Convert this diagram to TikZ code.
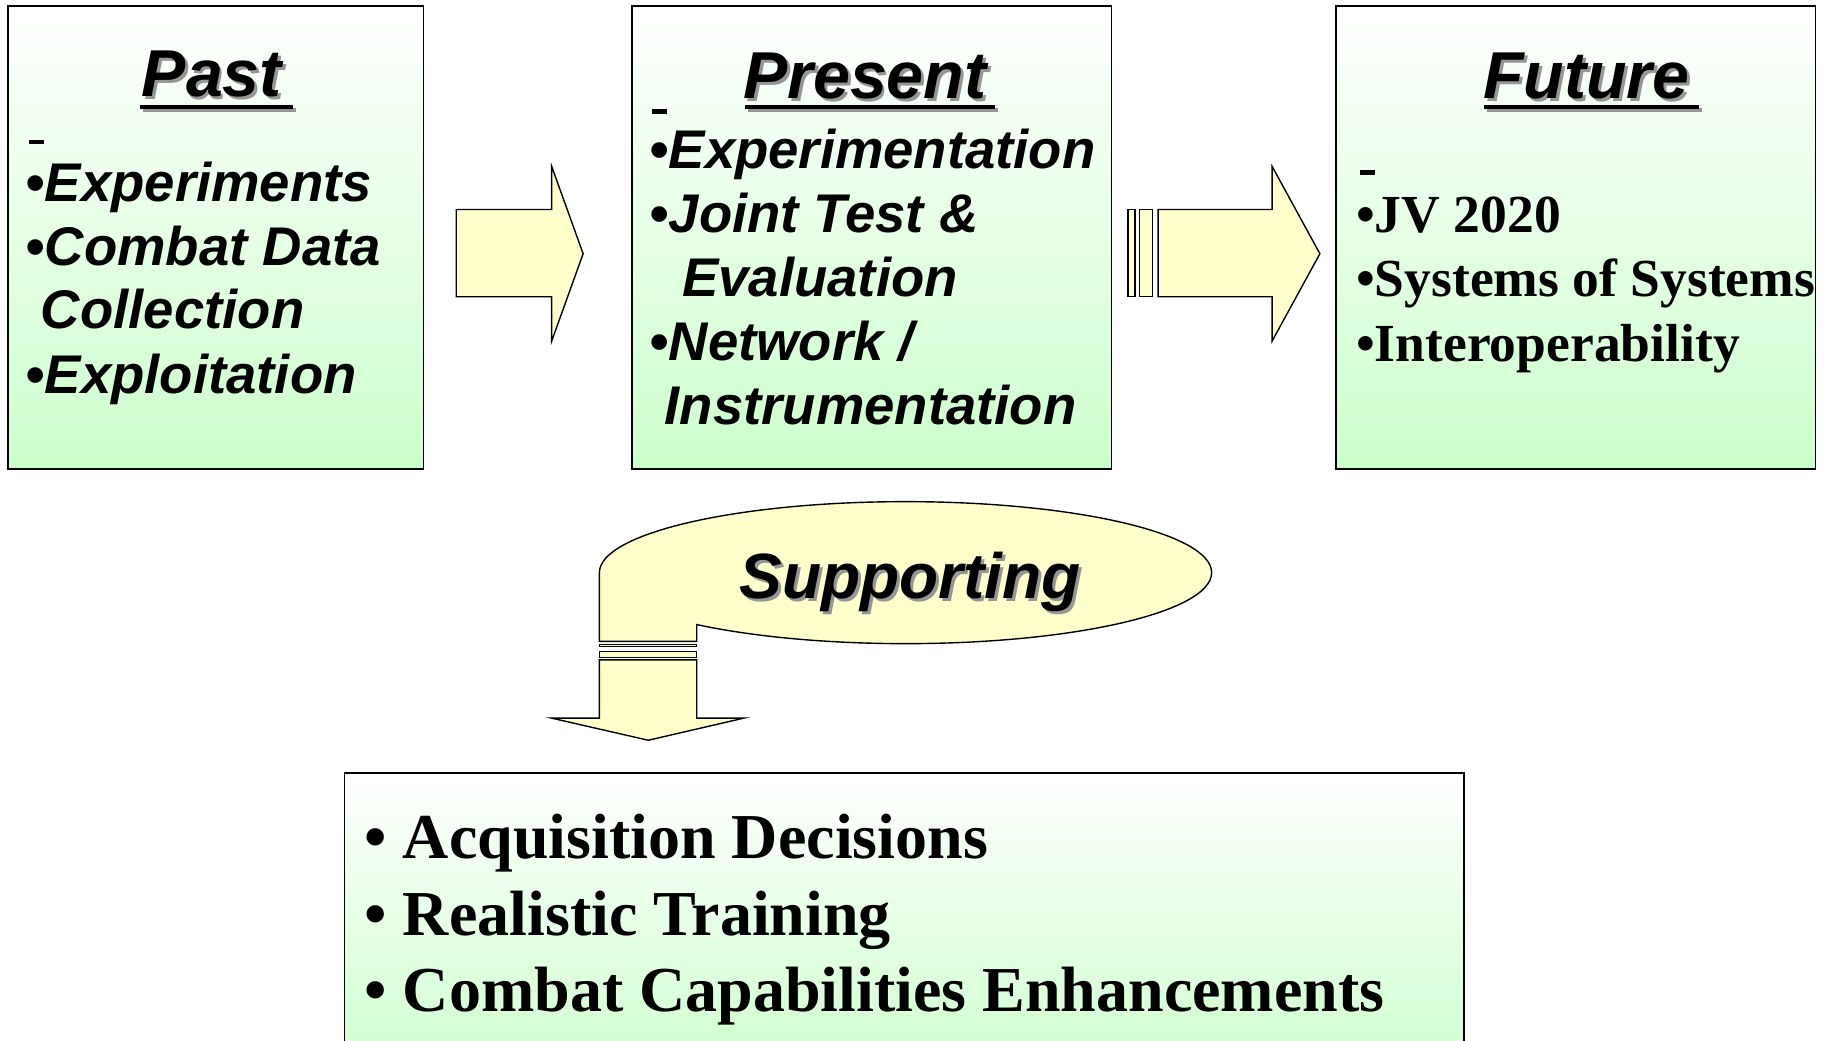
\documentclass[tikz,border=0pt]{standalone}
\usepackage{fontspec}
\setmainfont{Liberation Serif}
\newfontfamily\arialfont{Liberation Sans}
\definecolor{boxgreen}{RGB}{204,255,204}
\definecolor{arrowyellow}{RGB}{255,255,204}
\definecolor{shadowgray}{RGB}{150,150,150}

\begin{document}
\begin{tikzpicture}[x=1pt,y=-1pt,
  box/.style={draw=black,line width=1.3pt,top color=white,bottom color=boxgreen},
  blockarrow/.style={draw=black,line width=1.2pt,fill=arrowyellow,line join=miter},
  ttl/.style={anchor=base,inner sep=0pt,font=\arialfont\bfseries\itshape\fontsize{57}{57}\selectfont},
  ttlshadow/.style={ttl,text=shadowgray},
  uline/.style={line width=3pt},
  ulineshadow/.style={line width=3pt,shadowgray},
  sansitem/.style={anchor=base west,inner sep=0pt,font=\arialfont\bfseries\itshape\fontsize{46.8}{46.8}\selectfont},
  serifitem/.style={anchor=base west,inner sep=0pt,font=\bfseries\fontsize{46}{46}\selectfont},
  bigitem/.style={anchor=base west,inner sep=0pt,font=\bfseries\fontsize{55}{55}\selectfont},
  stray/.style={anchor=base west,inner sep=0pt}]
  \useasboundingbox (0,0) rectangle (1568,894);
  \clip (0,0) rectangle (1568,894);
  % draw the three boxes and the bottom one
  \draw[box] (7,5) rectangle (364,403);
  \draw[box] (543,5) rectangle (955,403);
  \draw[box] (1148,5) rectangle (1560,403);
  \draw[box] (296,664) rectangle (1258,930);
  % titles with shadow and underline
  \draw[ulineshadow] (122.5,94.5) -- (254.5,94.5);
  \draw[uline] (120,92) -- (252,92);
  \node[ttlshadow] (pastS) at (184.5,85.5) {Past};
  \node[ttl] (pastT) at (182,83) {Past};
  \draw[ulineshadow] (642.5,94.5) -- (857.5,94.5);
  \draw[uline] (640,92) -- (855,92);
  \node[ttlshadow] (presS) at (745.5,87.5) {Present};
  \node[ttl] (presT) at (743,85) {Present};
  \draw[ulineshadow] (1277.5,94.5) -- (1462.5,94.5);
  \draw[uline] (1275,92) -- (1460,92);
  \node[ttlshadow] (futS) at (1365.5,87.5) {Future};
  \node[ttl] (futT) at (1363,85) {Future};
  % stray dashes
  \node[stray] (pastD) at (25,124) {\rule{13pt}{4pt}};
  \node[stray] (presD) at (560,98) {\rule{13pt}{4pt}};
  \node[stray] (futD) at (1168,150) {\rule{13pt}{4pt}};
  % past items
  \node[sansitem] (pastA) at (22,173) {•Experiments};
  \node[sansitem] (pastB) at (22,228) {•Combat Data};
  \node[sansitem] (pastC) at (35,282) {Collection};
  \node[sansitem] (pastE) at (22,338) {•Exploitation};
  % present items
  \node[sansitem] (presA) at (558,145) {•Experimentation};
  \node[sansitem] (presB) at (558,200) {•Joint Test \&};
  \node[sansitem] (presC) at (586,255) {Evaluation};
  \node[sansitem] (presE) at (558,310) {•Network /};
  \node[sansitem] (presF) at (571,365) {Instrumentation};
  % future items
  \node[serifitem] (futA) at (1165,200) {•JV 2020};
  \node[serifitem] (futB) at (1165,255) {•Systems of Systems};
  \node[serifitem] (futC) at (1165,311) {•Interoperability};
  % block arrows between boxes
  \draw[blockarrow] (392,180) -- (474,180) -- (474,143) -- (501,218)
    -- (474,293) -- (474,255) -- (392,255) -- cycle;
  \draw[blockarrow] (969,180) rectangle (975,255);
  \draw[blockarrow] (979,180) rectangle (990,255);
  \draw[blockarrow] (995,180) -- (1093,180) -- (1093,143) -- (1134,218)
    -- (1093,293) -- (1093,255) -- (995,255) -- cycle;
  % supporting callout with its arrow
  \draw[blockarrow] (515,492) arc[start angle=180,end angle=493,x radius=263,y radius=61]
    -- (598.6,551) -- (515,551) -- cycle;
  \draw[blockarrow] (515,553.5) rectangle (598.6,555.5);
  \draw[blockarrow] (515,559.5) rectangle (598.6,565);
  \draw[blockarrow] (515,567) -- (598.6,567) -- (598.6,617) -- (639,617)
    -- (557,636) -- (474,617) -- (515,617) -- cycle;
  \node[ttlshadow,font=\arialfont\bfseries\itshape\fontsize{55}{55}\selectfont] (suppS) at (784.5,516.5) {Supporting};
  \node[ttl,font=\arialfont\bfseries\itshape\fontsize{55}{55}\selectfont] (suppT) at (782,514) {Supporting};
  % bottom items
  \node[bigitem] (botA) at (313,738) {• Acquisition Decisions};
  \node[bigitem] (botB) at (313,804) {• Realistic Training};
  \node[bigitem] (botC) at (313,869) {• Combat Capabilities Enhancements};
\end{tikzpicture}
\end{document}
